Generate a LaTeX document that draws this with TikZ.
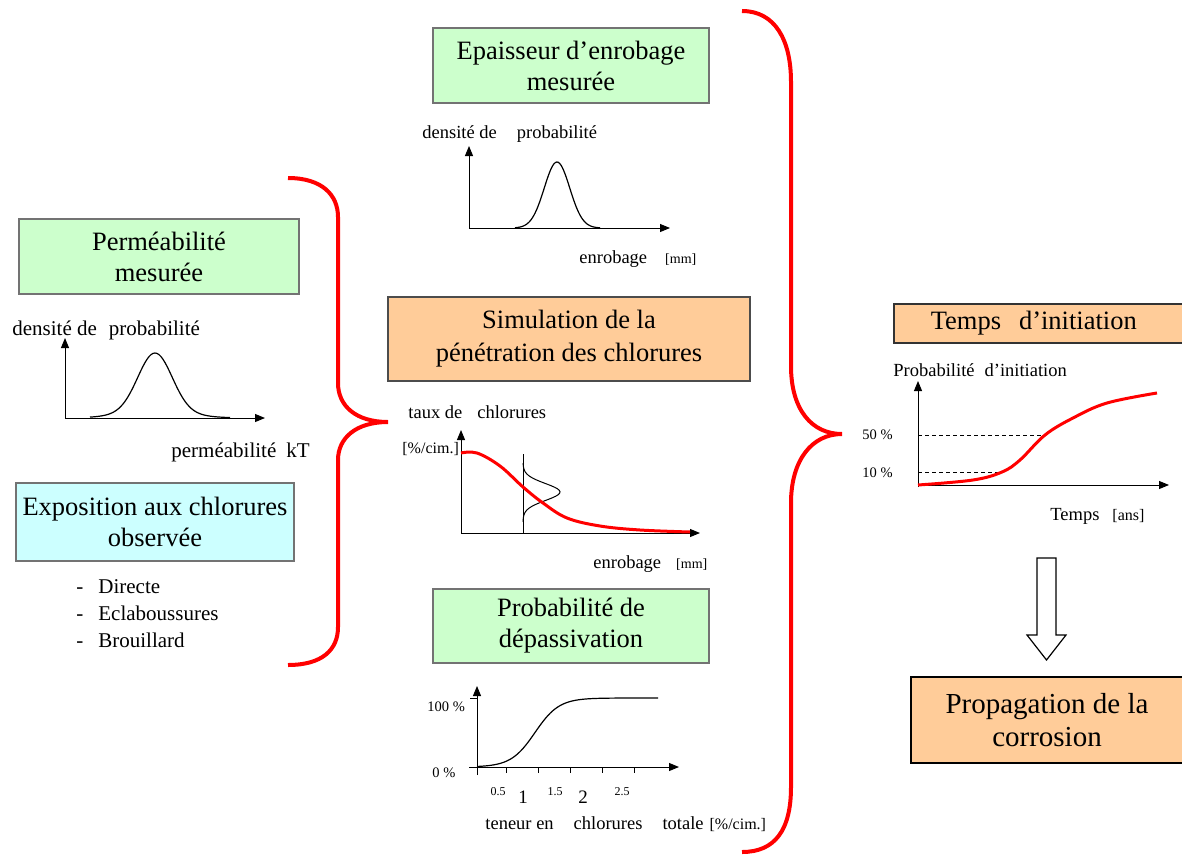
\documentclass[tikz,border=0pt]{standalone}
\usepackage{fontspec}
\setmainfont{Liberation Serif}
\usetikzlibrary{arrows.meta}

\definecolor{vertclair}{RGB}{204,255,204}
\definecolor{orangeclair}{RGB}{255,204,153}
\definecolor{cyanclair}{RGB}{204,255,255}

\tikzset{
  boite/.style={draw=black!55, line width=0.75pt, align=center, inner sep=0pt,
    font=\fontsize{13.25}{15.5}\selectfont},
  axe/.style={line width=0.5pt, -{Triangle[length=5pt,width=4pt]}},
  etiq/.style={inner sep=0pt, anchor=base west, font=\fontsize{9.25}{11}\selectfont},
  accolade/.style={red, line width=2pt},
  courbe/.style={red, line width=1.5pt},
}

\begin{document}
\begin{tikzpicture}[x=0.5pt, y=-0.5pt]
\useasboundingbox (0,0) rectangle (1182,856);

% Boites
\node[boite, fill=vertclair, minimum width=140pt, minimum height=37.5pt] (perm) at (159,256.5) {Perméabilité\\mesurée};
\node[boite, fill=cyanclair, minimum width=139pt, minimum height=39pt] (expo) at (155,522) {Exposition aux chlorures\\observée};
\node[boite, fill=vertclair, minimum width=138pt, minimum height=37.5pt] (epais) at (571,65.5) {Epaisseur d'enrobage\\mesurée};
\node[boite, fill=orangeclair, draw=black!70, minimum width=181pt, minimum height=42pt, font=\fontsize{13.25}{16.5}\selectfont] (simu) at (569,339) {Simulation de la\\pénétration des chlorures};
\node[boite, fill=vertclair, minimum width=138pt, minimum height=37pt] (depass) at (571,626) {Probabilité de\\dépassivation};
\node[boite, fill=orangeclair, draw=black!80, anchor=west, minimum height=19.5pt, text width=140pt, align=left, inner xsep=18.5pt] (temps) at (893,323.5) {Temps\hspace{9pt}d'initiation};
\node[boite, fill=orangeclair, draw=black, line width=1pt, minimum width=136pt, minimum height=43pt, font=\fontsize{14.5}{16.5}\selectfont] (prop) at (1047,720) {Propagation de la\\corrosion};

% Liste d'exposition
\foreach \txt [count=\i] in {Directe, Eclaboussures, Brouillard} {
  \node[etiq, font=\fontsize{10.5}{12}\selectfont] at (76,566+27*\i) {-};
  \node[etiq, font=\fontsize{10.5}{12}\selectfont] (liste\i) at (98,566+27*\i) {\txt};
}

% Graphe permeabilite
\draw[axe] (65,418) -- (65,338);
\draw[axe] (65,418) -- (265,418);
\draw[line width=0.6pt, domain=90:230, samples=70] plot (\x, {418-58*exp(-((\x-155)/24)^2)-7*exp(-((\x-155)/45)^2)});
\node[etiq, font=\fontsize{10.5}{12}\selectfont] (dens1) at (12,335) {densité de\hspace{6pt}probabilité};
\node[etiq, font=\fontsize{10.5}{12}\selectfont] (kt) at (171,457) {perméabilité\hspace{5pt}kT};

% Graphe enrobage
\draw[axe] (469,228) -- (469,146);
\draw[axe] (469,228) -- (670,228);
\draw[line width=0.6pt, domain=515:600, samples=60] plot (\x, {228-66*exp(-((\x-557)/18)^2)});
\node[etiq] (dens2) at (422,138) {densité de\hspace{10pt}probabilité};
\node[etiq] (enr1) at (579,263) {enrobage\hspace{9pt}{\fontsize{7}{8}\selectfont[mm]}};

% Graphe chlorures
\draw[axe] (461,533) -- (461,430);
\draw[axe] (461,533) -- (700,533);
\draw[line width=0.5pt] (523,454) -- (523,533);
\draw[line width=0.5pt, domain=463:522, samples=40] plot ({523+37*exp(-((\x-492)/12)^2)}, \x);
\draw[courbe] plot[smooth, tension=0.6] coordinates {(461,453) (477,453) (500,466) (523,487) (543,503) (567,518) (600,526) (640,530) (690,532)};
\node[etiq] (taux) at (408,418) {taux de\hspace{7.5pt}chlorures};
\node[etiq, font=\fontsize{8}{9}\selectfont] (cim1) at (402,453) {[\%/cim.]};
\node[etiq] (enr2) at (593,568) {enrobage\hspace{7.5pt}{\fontsize{7}{8}\selectfont[mm]}};

% Graphe depassivation
\draw[axe] (477,775) -- (477,686);
\draw[axe] (469,767) -- (679,767);
\draw[line width=0.5pt] (470,698) -- (477,698);
\foreach \t in {506,538,570,602,634} \draw[line width=0.5pt] (\t,767) -- (\t,773);
\draw[line width=0.6pt, domain=477:658, samples=80] plot (\x, {767-69/(1+exp(-(\x-535)/12))});
\node[etiq, font=\fontsize{7.25}{8}\selectfont] (cent) at (427,711) {100 \%};
\node[etiq, font=\fontsize{7.25}{8}\selectfont] (zero) at (432,777) {0 \%};
\foreach \v/\px in {0.5/498, 1.5/555, 2.5/622}
  \node[inner sep=0pt, anchor=base, font=\fontsize{6}{7}\selectfont] at (\px,795) {\v};
\foreach \v/\px in {1/523, 2/583}
  \node[inner sep=0pt, anchor=base, font=\fontsize{9.5}{11}\selectfont] at (\px,803) {\v};
\node[etiq] (teneur) at (485,829) {teneur en\hspace{10pt}chlorures\hspace{10pt}totale\hspace{3pt}{\fontsize{8}{9}\selectfont[\%/cim.]}};

% Graphe initiation
\draw[axe] (918,487) -- (918,381);
\draw[axe] (918,485) -- (1169,485);
\draw[line width=0.5pt, dash pattern=on 2pt off 1.5pt] (918,435) -- (1045,435);
\draw[line width=0.5pt, dash pattern=on 2pt off 1.5pt] (918,472) -- (1002,472);
\draw[courbe] plot[smooth, tension=0.6] coordinates {(918,485) (973,480) (1002,472) (1020,460) (1045,435) (1073,418) (1107,403) (1157,393)};
\node[etiq] (proba) at (893,376) {Probabilité\hspace{5pt}d'initiation};
\node[etiq, font=\fontsize{7.25}{8}\selectfont] (cinq) at (862,439) {50 \%};
\node[etiq, font=\fontsize{7.25}{8}\selectfont] (dix) at (862,477) {10 \%};
\node[etiq] (ans) at (1050,520) {Temps\hspace{6.5pt}{\fontsize{8}{9}\selectfont[ans]}};

% Fleche creuse
\draw[line width=0.6pt, fill=white] (1037,558) -- (1056,558) -- (1056,635) -- (1066,635) -- (1046.5,660) -- (1027,635) -- (1037,635) -- cycle;

% Accolades
\draw[accolade] (288,178) .. controls (322,178) and (338,195) .. (338,217) -- (338,383)
  .. controls (338,406) and (356,422) .. (388,422)
  .. controls (356,422) and (338,438) .. (338,460) -- (338,627)
  .. controls (338,650) and (322,665) .. (288,665);
\draw[accolade] (742,11) .. controls (775,11) and (791,40) .. (791,82) -- (791,366)
  .. controls (791,410) and (812,434) .. (842,434)
  .. controls (812,434) and (791,460) .. (791,503) -- (791,787)
  .. controls (791,830) and (775,852) .. (742,852);

\end{tikzpicture}
\end{document}
